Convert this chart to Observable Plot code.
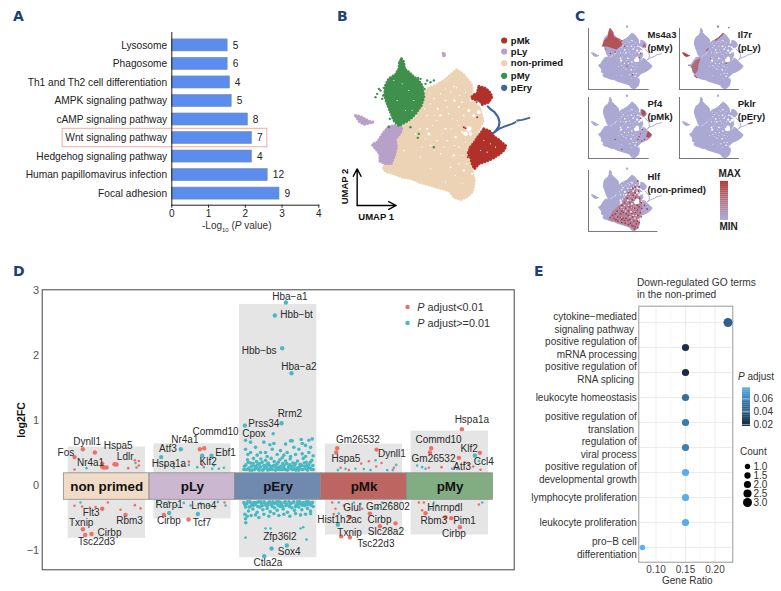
<!DOCTYPE html>
<html><head><meta charset="utf-8">
<script src="https://cdn.jsdelivr.net/npm/d3@7"></script>
<script src="https://cdn.jsdelivr.net/npm/@observablehq/plot@0.6"></script>
<style>
html,body{margin:0;padding:0;background:#fff}
#root{position:relative;width:781px;height:591px;overflow:hidden;font-family:"Liberation Sans",Arial,sans-serif;color:#222}
#root svg{position:absolute;overflow:visible}
.t{position:absolute;white-space:nowrap;line-height:1}
.L{font-weight:700;font-size:14px;color:#1f3f78;font-family:"DejaVu Sans","Liberation Sans",sans-serif}
</style></head><body><div id="root"></div>
<script>
const FONT='"Liberation Sans",Arial,sans-serif';
// ---------- Panel A
const pathways=["Lysosome","Phagosome","Th1 and Th2 cell differentiation","AMPK signaling pathway","cAMP signaling pathway","Wnt signaling pathway","Hedgehog signaling pathway","Human papillomavirus infection","Focal adhesion"];
const pathwayLogP=[1.52,1.52,1.58,1.63,2.07,2.18,2.18,2.61,2.93];
const pathwayCount=[5,6,4,5,8,7,4,12,9];
// ---------- Panel B (UMAP outlines and specks)
const nonPrimedShape=[[378,208],[395,218],[410,235],[422,250],[425,262],[422,295],[432,310],[448,322],[452,340],[458,362],[440,395],[430,440],[425,510],[432,545],[425,575],[408,590],[390,598],[370,590],[358,572],[335,565],[310,558],[290,552],[265,545],[245,535],[215,530],[190,520],[165,513],[157,500],[170,490],[180,440],[215,380],[260,350],[275,295],[280,280],[295,262],[315,255],[340,240]];
const pMyShape=[[213,175],[220,185],[222,205],[235,215],[245,225],[262,238],[275,255],[280,290],[272,315],[255,340],[240,355],[225,365],[205,375],[190,360],[178,330],[170,310],[162,285],[165,255],[175,235],[195,222],[205,205],[207,185]];
const pLyShape=[[175,378],[195,375],[215,380],[210,398],[195,415],[198,440],[192,465],[182,490],[165,490],[148,482],[148,460],[135,445],[125,432],[140,425],[150,410],[160,395]];
const pLyIsland=[[75,345],[90,348],[115,362],[128,365],[100,372],[85,362]];
const pLyTop=[[336,157],[343,158],[344,166],[338,168]];
const pMkLower=[[460,385],[478,392],[490,408],[505,418],[527,437],[518,452],[505,462],[485,475],[465,483],[445,490],[432,505],[425,490],[420,470],[412,460],[420,440],[432,425],[445,405]];
const pMkUpper=[[445,258],[462,262],[475,272],[485,288],[475,305],[455,312],[448,300],[432,297],[422,292],[430,283],[440,278]];
const pEryStem=[[472,318],[480,326],[492,335],[503,350],[507,365],[505,378],[495,392]];
const pEryTail=[[488,398],[505,385],[525,377],[545,370],[555,365]];
const pEryEnd=[[560,360],[575,358],[597,352]];
const pMySpecks=[[270,235],[290,240],[310,240],[300,245],[285,250],[262,232],[140,280],[150,270],[155,295],[135,290],[178,355],[175,380],[240,380],[265,400],[310,440],[262,412],[160,262],[172,250],[275,300],[282,265],[145,265],[158,285]];
const pMkSpecks=[[400,380],[405,383],[412,470],[440,350],[415,465],[425,478],[418,440],[428,292],[438,305]];
const holes=[[370,258,2],[378,262,2],[372,300,3],[385,320,3],[395,305,2],[345,300,2],[322,325,3],[330,345,3],[300,310,2],[310,295,2],[290,345,2],[355,340,2],[400,345,2],[420,300,3],[415,330,4],[430,345,4],[445,335,5],[415,385,7],[405,400,6],[420,400,5],[395,395,3],[375,410,3],[385,440,2],[370,465,3],[385,490,2],[360,500,2],[290,385,3],[295,400,4],[268,385,2],[255,400,2],[300,435,2],[320,420,2],[345,385,3],[350,420,2],[330,460,2],[400,510,3],[425,520,3],[408,490,2],[270,470,1.5],[220,450,1.5],[300,505,1.5],[215,250,1.5],[235,270,2],[200,300,1.5],[250,300,1.5],[225,330,2],[190,240,1.5],[245,330,1.5],[460,420,1.5],[480,430,1.5],[450,450,1.5],[495,440,1.5],[470,455,1.5],
[360,275,1.5],[388,285,1.5],[405,275,1.5],[350,320,1.5],[365,355,1.5],[380,360,1.5],[318,360,1.5],[305,375,1.5],[335,400,1.5],[362,385,1.5],[385,375,1.5],[312,345,1.5],[282,325,1.5],[298,278,1.5],[330,280,1.5],[345,265,1.5],[405,425,1.5],[410,450,1.5],[395,465,1.5],[372,435,1.5],[340,440,1.5],[312,450,1.5],[285,415,1.5],[275,440,1.5],[395,550,1.5],[375,525,1.5],[345,545,1.5]];
const cellTypes=["pMk","pLy","non-primed","pMy","pEry"];
const cellColors=["#b0302a","#b9a0c8","#ecd3b5","#3f8f4d","#3d669f"];
const legendRows=[120,153,188,226,262];
const axisArrows=[[80,615,80,505],[80,615,197,615]];
// ---------- Panel C hot spots, in the same UMAP units
const ms4a3Patch=[[213,175],[235,200],[240,235],[290,250],[300,290],[260,320],[190,300],[150,300],[170,260],[195,235],[200,200]];
const ms4a3Dots=[[467,285],[472,295],[478,305],[462,300],[440,350],[430,380],[300,260],[320,300],[250,340],[215,350],[340,440],[380,500],[180,320]];
const il7rPatch=[[170,400],[205,385],[190,430],[185,470],[165,495],[150,470],[140,440]];
const il7rDots=[[375,212],[368,220],[360,228],[350,236],[340,243],[330,250],[322,256],[255,327],[262,318],[120,432],[170,510],[180,520],[90,355],[100,362],[110,365],[338,160],[420,170],[285,385],[400,420]];
const pf4Upper=[[450,262],[470,270],[480,290],[462,305],[450,290]];
const pf4Lower=[[500,415],[522,435],[505,455],[485,450],[490,430]];
const pf4Dots=[[455,400],[440,430],[430,450],[470,470],[450,480],[420,470],[440,320],[300,540],[250,470]];
const pklrDots=[[575,358],[580,356],[585,355],[590,354],[595,352],[570,360]];
const hlfWash=[[380,280],[430,340],[450,420],[430,560],[400,595],[350,570],[280,545],[200,520],[230,460],[300,400],[340,340]];
const hlfDots=[[420,250],[430,290],[425,320],[400,330],[385,350],[405,365],[435,370],[445,400],[430,430],[415,450],[450,440],[470,420],[490,445],[440,470],[420,490],[400,470],[380,440],[360,430],[350,460],[330,440],[310,470],[290,480],[270,500],[240,510],[210,505],[250,480],[300,520],[330,510],[360,520],[390,530],[410,550],[420,575],[395,585],[375,560],[350,555],[325,545],[300,540],[270,530],[380,500],[350,490],[405,510],[360,400],[340,370],[320,400],[380,380],[415,420],[445,500],[380,300],[350,330],[400,290],[300,420],[280,440],[310,510],[430,540],[375,475],[335,480],[265,460],[230,490],[395,440],[345,525],[365,545],[385,565],[400,570],[415,530],[290,505],[255,520],[320,525],[300,460]];
// ---------- Panel D
const clusters=["non primed","pLy","pEry","pMk","pMy"];
const clusterEdges=[190,447,704,961,1220,1477];
const clusterFill=["#f0dcc6","#cbb7d0","#7089ae","#bd6560","#82ad82"];
const boxX1=[203,460,717,975,1232];
const boxX2=[435,692,949,1206,1464];
const boxTop=[.585,.635,2.78,.63,.83];
const boxBottom=[-.82,-.52,-1.12,-.77,-.77];
const redLarge=[[247,.55],[283,.5],[222,.43],[305,.33],[310,.27],[318,.27],[305,.28],[342,.32],[348,.315],[305,-.365],[375,-.46],[247,-.68],[254,-.77],[273,-.755],[598,.55],[611,.565],[490,-.46],[564,-.53],[1010,.565],[1007,.5],[1128,.545],[1048,-.495],[1108,-.44],[1022,-.79],[1048,-.805],[1138,-.635],[1185,-.59],[1384,.86],[1292,.565],[1288,.5],[1375,.418],[1438,.495],[1275,-.435],[1335,-.495],[1352,-.51],[1378,-.65]];
const redSmall=[[222,.24],[403,.38],[415,.37],[415,.3],[408,.27],[383,.26],[222,-.32],[245,-.33],[268,-.35],[285,-.34],[322,-.27],[360,-.38],[403,-.31],[420,-.36],[520,.33],[545,.3],[565,.36],[605,.31],[672,-.27],[1020,.265],[1045,.23],[1082,.33],[1105,.365],[1143,.34],[1127,.285],[1180,.265],[995,-.27],[1005,-.365],[1030,-.315],[1085,-.365],[1000,-.445],[1392,.35],[1405,.325],[1362,.275],[1440,.235],[1285,.265],[1323,.275],[1418,.285],[1255,-.27],[1270,-.27],[1265,-.39],[1435,-.3]];
const tealLarge=[[541,.55],[482,.43],[605,.45],[633,.45],[506,-.43],[592,-.445],[856,2.81],[823,2.61],[845,2.105],[873,1.72],[843,.95],[733,.915],[791,-1.095],[859,-.93],[813,-.977],[1012,-.61],[1423,.455]];
const tealSmall=[[258,.26],[405,.34],[240,-.27],[495,.3],[565,.31],[520,.265],[590,.275],[610,.275],[640,.3],[655,.25],[670,.265],[635,.25],[470,-.26],[505,-.26],[530,-.315],[550,-.275],[570,-.315],[600,-.28],[625,-.315],[652,-.26],[675,-.315],[490,-.29],[1012,.23],[1035,.25],[1065,.25],[1125,.38],[1090,.245],[1110,.23],[1160,.23],[1187,.31],[1177,.23],[1015,-.27],[1060,-.27],[1080,-.29],[1015,-.44],[1130,-.36],[1145,-.27],[1170,-.27],[1250,.3],[1265,.275],[1275,.25],[1355,.25],[1370,.25],[1435,.37],[1300,-.27],[1310,-.315],[1370,-.315],[1445,-.27],[1290,-.365],[735,-.81],[795,-.67],[810,-.67],[908,-.65],[900,-.67],[918,-.84]];
const pEryUp=[[735,.69],[750,.66],[790,.66],[818,.79],[820,.64],[870,.68],[875,.68],[902,.7],[935,.71],[925,.69],[905,.64],[855,.63],[808,.62],[840,.53],[860,.5],[880,.58],[895,.55],[915,.61],[930,.58],[765,.58],[735,.55],[750,.5],[780,.5],[815,.55],[795,.5],[830,.47],[850,.46],[905,.48],[925,.5],[742,.47],[770,.46],[885,.47],[800,.44],[870,.44],[938,.45],[915,.44],[845,.42],
[730,.24],[736,.31],[741,.39],[745,.26],[750,.34],[755,.23],[759,.41],[763,.29],[768,.36],[772,.25],[777,.33],[781,.4],[786,.23],[790,.3],[795,.38],[799,.26],[803,.34],[808,.24],[812,.41],[816,.29],[821,.36],[825,.23],[829,.32],[834,.27],[838,.39],[842,.24],[847,.33],[851,.3],[855,.37],[860,.23],[864,.28],[869,.4],[873,.25],[877,.34],[882,.3],[886,.23],[891,.37],[895,.27],[899,.32],[904,.24],[908,.41],[912,.29],[917,.35],[921,.23],[925,.31],[930,.26],[934,.38],[938,.24],
[732,.29],[738,.24],[743,.35],[748,.23],[753,.29],[758,.33],[762,.24],[767,.27],[771,.31],[776,.23],[780,.28],[785,.35],[789,.24],[793,.27],[798,.31],[802,.23],[807,.3],[811,.26],[815,.24],[820,.3],[824,.28],[828,.24],[833,.35],[837,.24],[841,.29],[846,.24],[850,.26],[854,.24],[859,.33],[863,.24],[868,.31],[872,.29],[876,.24],[881,.25],[885,.33],[890,.26],[894,.23],[898,.28],[903,.3],[907,.24],[911,.34],[916,.25],[920,.3],[924,.26],[929,.35],[933,.24],[937,.3]];
const pEryDown=[[730,-.27],[735,-.34],[739,-.29],[744,-.4],[748,-.26],[752,-.32],[757,-.37],[761,-.27],[765,-.3],[770,-.42],[774,-.26],[778,-.34],[783,-.29],[787,-.38],[791,-.26],[796,-.31],[800,-.36],[804,-.27],[809,-.41],[813,-.3],[817,-.26],[822,-.35],[826,-.28],[830,-.39],[835,-.26],[839,-.33],[843,-.3],[848,-.37],[852,-.27],[856,-.32],[861,-.42],[865,-.26],[869,-.29],[874,-.35],[878,-.27],[882,-.39],[887,-.31],[891,-.26],[895,-.34],[900,-.29],[904,-.38],[908,-.27],[913,-.32],[917,-.26],[921,-.36],[926,-.3],[930,-.4],[934,-.27],[938,-.33],
[733,-.3],[741,-.26],[746,-.34],[754,-.28],[759,-.31],[768,-.27],[772,-.33],[781,-.26],[785,-.32],[794,-.28],[802,-.31],[807,-.26],[815,-.33],[820,-.28],[828,-.26],[833,-.31],[841,-.27],[846,-.33],[854,-.26],[859,-.3],[867,-.33],[872,-.28],[880,-.26],[885,-.33],[893,-.29],[898,-.26],[906,-.31],[911,-.28],[919,-.3],[924,-.26],[932,-.31],[936,-.27],
[733,-.45],[735,-.52],[740,-.48],[736,-.58],[752,-.47],[765,-.46],[775,-.5],[790,-.45],[805,-.48],[820,-.44],[835,-.47],[850,-.45],[868,-.48],[885,-.44],[900,-.46],[915,-.45],[930,-.44]];
const labelsD=[["Dynll1",260,.67],["Hspa5",353,.61],["Fos",196,.5],["Ldlr",374,.43],["Nr4a1",270,.34],["Flt3",272,-.43],["Txnip",242,-.58],["Rbm3",387,-.55],["Cirbp",327,-.73],["Tsc22d3",288,-.88],
["Commd10",645,.82],["Nr4a1",553,.7],["Atf3",502,.55],["Ebf1",675,.5],["Klf2",623,.35],["Hspa1a",505,.32],["Rarp1",506,-.31],["Lmo4",610,-.315],["Cirbp",505,-.55],["Tcf7",604,-.58],
["Hba\u2212a1",868,2.9],["Hbb\u2212bt",888,2.62],["Hbb\u2212bs",776,2.07],["Hba\u2212a2",895,1.82],["Rrm2",868,1.1],["Prss34",790,.95],["Cpox",760,.79],["Zfp36l2",838,-.79],["Sox4",866,-1.03],["Ctla2a",802,-1.2],
["Gm26532",1072,.7],["Dynll1",1174,.48],["Hspa5",1036,.4],["Glul",1055,-.35],["Gm26802",1162,-.34],["Hist1h2ac",1017,-.54],["Cirbp",1137,-.54],["Txnip",1047,-.73],["Slc28a2",1156,-.72],["Tsc22d3",1126,-.91],
["Hspa1a",1414,1.0],["Commd10",1314,.7],["Klf2",1406,.55],["Gm26532",1299,.4],["Ccl4",1450,.36],["Atf3",1385,.28],["Hnrnpdl",1333,-.35],["Rbm3",1300,-.55],["Pim1",1392,-.555],["Cirbp",1360,-.755]];
const legendDX=[1221,1221];
const legendDY=[2.74,2.495];
// ---------- Panel E
const goTerms=["cytokine\u2212mediated\nsignaling pathway ","positive regulation of\nmRNA processing","positive regulation of\nRNA splicing ","leukocyte homeostasis","positive regulation of\ntranslation ","regulation of\nviral process","positive regulation of\ndevelopmental growth","lymphocyte proliferation","leukocyte proliferation","pro\u2212B cell\ndifferentiation"];
const geneRatio=[.222,.15,.15,.15,.15,.15,.15,.15,.15,.077];
const pAdjust=[.042,.02,.018,.048,.053,.055,.076,.076,.076,.078];
const goCount=[3,2,2,2,2,2,2,2,2,1];
const countLevels=[1,1.5,2,2.5,3];
const colorbarSteps=[.017,.02,.023,.026,.029,.032,.035,.038,.041,.044,.047,.05,.053,.056,.059,.062,.065,.068,.071,.074];
const colorbarTicks=[.02,.04,.06];

const root=document.getElementById("root");
function place(svg,left,top){svg.style.left=left+"px";svg.style.top=top+"px";root.append(svg);return svg}
function text(html,left,top,css="",cls="t"){const d=document.createElement("div");d.className=cls;d.innerHTML=html;d.style.cssText=`left:${left}px;top:${top}px;transform:translateY(-50%);${css}`;root.append(d);return d}
const base={style:{fontFamily:FONT,fontSize:"10px",background:"transparent",overflow:"visible"}};
const poly=(pts,color,o={})=>Plot.line(pts,{x:d=>d[0],y:d=>d[1],curve:"linear-closed",fill:color,stroke:color,strokeWidth:1.5,strokeLinejoin:"round",...o});
const beaded=(pts,color)=>poly(pts,color,{strokeWidth:3,strokeDasharray:"0.1 3",strokeLinecap:"round"});

// Panel A
const tableA=pathways.map((p,i)=>({p,v:pathwayLogP[i],c:pathwayCount[i]}));
place(Plot.plot({...base,style:{...base.style,color:"#222"},width:330,height:240,marginLeft:171.3,marginRight:11.7,marginTop:32,marginBottom:35.3,
 x:{domain:[0,4]},y:{domain:pathways,range:[32.4,205.6],padding:.35,round:false},
 marks:[
  Plot.barX(tableA,{x:"v",y:"p",fill:"#5a8dee",stroke:"#7d8aa6",strokeWidth:.6}),
  Plot.barX([pathways[5]],{y:d=>d,x1:()=>-2.97,x2:()=>2.6,fill:"none",stroke:"#f4aaa0",strokeWidth:1,insetTop:-3.2,insetBottom:-3.2}),
  Plot.text(tableA,{x:"v",y:"p",text:d=>String(d.c),dx:5,textAnchor:"start",fontSize:10.2}),
  Plot.frame({anchor:"left",stroke:"#222"}),Plot.frame({anchor:"bottom",stroke:"#222"}),
  Plot.axisY({tickSize:0,tickPadding:4.6,label:null,fontSize:10.2}),
  Plot.axisX({ticks:[0,1,2,3,4],tickSize:3,tickPadding:2,label:null,tickFormat:d=>d,fontSize:10})
 ]}),0,0);
text('-Log<sub style="font-size:6px">10</sub> (<i>P</i> value)',202,227,"font-size:10px;color:#333");

// Panel B
place(Plot.plot({...base,width:230,height:240,margin:0,r:{type:"identity"},
 x:{domain:[0,690],axis:null},y:{domain:[0,720],range:[0,240],axis:null},color:{type:"identity"},
 marks:[
  beaded(nonPrimedShape,cellColors[2]),
  Plot.dot(holes,{x:d=>d[0],y:d=>d[1],r:d=>d[2]/2.6,fill:"#fff"}),
  beaded(pLyShape,cellColors[1]),beaded(pLyIsland,cellColors[1]),poly(pLyTop,cellColors[1]),
  beaded(pMyShape,cellColors[3]),
  Plot.dot(pMySpecks,{x:d=>d[0],y:d=>d[1],r:1.2,fill:cellColors[3]}),
  beaded(pMkLower,cellColors[0]),beaded(pMkUpper,cellColors[0]),
  Plot.dot(pMkSpecks,{x:d=>d[0],y:d=>d[1],r:1,fill:cellColors[0]}),
  Plot.dot(holes.filter(d=>d[2]<2.1&&(d[0]<260||d[0]>445)),{x:d=>d[0],y:d=>d[1],r:.6,fill:"#fff"}),
  Plot.line(pEryStem,{x:d=>d[0],y:d=>d[1],stroke:cellColors[4],strokeWidth:2.2}),
  Plot.line(pEryTail,{x:d=>d[0],y:d=>d[1],stroke:cellColors[4],strokeWidth:2}),
  Plot.line(pEryEnd,{x:d=>d[0],y:d=>d[1],stroke:cellColors[4],strokeWidth:1.8}),
  Plot.arrow(axisArrows,{x1:d=>d[0],y1:d=>d[1],x2:d=>d[2],y2:d=>d[3],bend:0,stroke:"#000",strokeWidth:1.4,headLength:9,headAngle:55}),
  Plot.text(["UMAP 1"],{x:()=>137,y:()=>650,fontWeight:700,fontSize:9.5,fill:"#111"}),
  Plot.text(["UMAP 2"],{x:()=>43,y:()=>558,rotate:-90,fontWeight:700,fontSize:9.5,fill:"#111"}),
  Plot.dot(cellTypes,{x:()=>521,y:(d,i)=>legendRows[i],r:3.1,fill:(d,i)=>cellColors[i]}),
  Plot.text(cellTypes,{x:()=>541,y:(d,i)=>legendRows[i],text:d=>d,textAnchor:"start",fontWeight:700,fontSize:9.5,fill:"#111"})
 ]}),330,0);

// Panel C
const LAV="#aba9d4",RED="#b5362e";
const outline=[nonPrimedShape,pMyShape,pLyShape,pLyIsland,pLyTop,pMkLower,pMkUpper];
const miniHoleSet=holes.filter(d=>d[0]>270&&d[0]<450&&d[1]<530);
const miniHoles=()=>Plot.dot(miniHoleSet,{x:d=>d[0],y:d=>d[1],r:d=>Math.max(.4,d[2]*.27),fill:"#fff"});
function miniUmap(left,top,w,extra,label,lx){
 const marks=[
  ...outline.map(p=>poly(p,LAV,{strokeWidth:1})),
  Plot.line(pEryStem,{x:d=>d[0],y:d=>d[1],stroke:LAV,strokeWidth:1}),
  Plot.line(pEryTail,{x:d=>d[0],y:d=>d[1],stroke:LAV,strokeWidth:1}),
  Plot.line(pEryEnd,{x:d=>d[0],y:d=>d[1],stroke:LAV,strokeWidth:1}),
  miniHoles(),
  ...extra,
  Plot.frame({anchor:"left",stroke:"#777",strokeWidth:1}),Plot.frame({anchor:"bottom",stroke:"#777",strokeWidth:1}),
  Plot.text([label],{x:()=>lx,y:()=>176,text:d=>d,textAnchor:"start",lineAnchor:"top",lineHeight:1.37,fontWeight:700,fontSize:9.5,fill:"#1a1a1a"})
 ];
 place(Plot.plot({...base,width:w,height:61,margin:0,r:{type:"identity"},
  x:{domain:[50,50+w*7.5],axis:null},y:{domain:[175,603],range:[0,61],axis:null},marks}),left,top);
}
const hot=(pts,r=.7)=>Plot.dot(pts,{x:d=>d[0],y:d=>d[1],r,fill:RED});
miniUmap(587.7,28.3,59.7,[poly(ms4a3Patch,RED,{fillOpacity:.75,strokeOpacity:.6,strokeWidth:.6}),hot(ms4a3Dots)],"Ms4a3\n(pMy)",492);
miniUmap(679.3,28.3,59,[poly(il7rPatch,RED,{fillOpacity:.55,strokeOpacity:.4,strokeWidth:.6}),poly(pLyIsland,RED,{fillOpacity:.8,strokeWidth:.5}),hot(il7rDots)],"Il7r\n(pLy)",487);
miniUmap(587.7,96.7,59.7,[poly(pf4Upper,RED,{fillOpacity:.8,strokeWidth:.5}),poly(pf4Lower,RED,{fillOpacity:.8,strokeWidth:.5}),hot(pf4Dots)],"Pf4\n(pMk)",492);
miniUmap(679.3,96.7,59,[hot(pklrDots)],"Pklr\n(pEry)",487);
miniUmap(587.7,170,68.3,[poly(hlfWash,RED,{fillOpacity:.3,strokeOpacity:0}),hot(hlfDots,.85),miniHoles()],"Hlf\n(non-primed)",492);
const cbC=d3.range(0,1,.05);
place(Plot.plot({...base,width:8,height:39,margin:0,x:{domain:[0,1],axis:null},y:{domain:[0,1],axis:null},
 color:{type:"linear",domain:[0,1],range:["#adabd6",RED]},
 marks:[Plot.rect(cbC,{x1:()=>0,x2:()=>1,y1:d=>d,y2:d=>d+.052,fill:d=>d})]}),720,180.7);
text("MAX",718.5,174,"font-size:10px;font-weight:700;color:#222");
text("MIN",719.5,226.5,"font-size:10px;font-weight:700;color:#222");

// Panel D
const pts=(a,r,c)=>Plot.dot(a,{x:d=>d[0],y:d=>d[1],r,fill:c});
const RD="#ef6f66",TL="#48b9c4";
const clusterRows=clusters.map((name,i)=>({name,i,x1:clusterEdges[i],x2:clusterEdges[i+1],mid:(clusterEdges[i]+clusterEdges[i+1])/2,fill:clusterFill[i],bx1:boxX1[i],bx2:boxX2[i],bt:boxTop[i],bb:boxBottom[i]}));
place(Plot.plot({...base,style:{...base.style,color:"#555",fontSize:"11px"},width:514,height:300,marginLeft:41.7,marginRight:.3,marginTop:19.3,marginBottom:.7,
 x:{domain:[125,1541],axis:null},y:{domain:[-1.305,3.005]},color:{type:"identity"},
 marks:[
  Plot.rect(clusterRows,{x1:"bx1",x2:"bx2",y1:"bb",y2:"bt",fill:"#e5e5e5"}),
  pts(pEryUp,1.8,TL),pts(pEryDown,1.8,TL),
  pts(tealSmall,1.3,TL),pts(redSmall,1.3,RD),pts(tealLarge,2.2,TL),pts(redLarge,2.2,RD),
  Plot.rect(clusterRows,{x1:"x1",x2:"x2",y1:()=>-.227,y2:()=>.18,fill:"fill",stroke:"#8a8a8a",strokeWidth:.8}),
  Plot.text(clusterRows,{x:"mid",y:()=>-.03,text:"name",fontWeight:700,fontSize:13.4,fill:"#111"}),
  Plot.text(labelsD,{x:d=>d[1],y:d=>d[2],text:d=>d[0],fontSize:10,fill:"#2a2a2a"}),
  Plot.dot(legendDX,{x:d=>d,y:(d,i)=>legendDY[i],r:2.2,fill:(d,i)=>[RD,TL][i]}),
  Plot.frame({stroke:"#444",strokeWidth:1}),
  Plot.axisY({ticks:[-1,0,1,2,3],tickSize:0,tickPadding:3,label:null,fontSize:11,color:"#555",tickFormat:d3.format("d")})
 ]}),0,270);
text('log2FC',21,420,"font-size:10.5px;font-weight:700;transform:translate(-50%,-50%) rotate(-90deg);color:#111");
text('<i>P</i> adjust&lt;0.01',417.3,306.5,"font-size:10.8px;color:#333");
text('<i>P</i> adjust&gt;=0.01',417.3,322.5,"font-size:10.8px;color:#333");

// Panel E
const tableE=goTerms.map((t,i)=>({t,g:geneRatio[i],p:pAdjust[i],c:goCount[i]}));
const pColor={type:"linear",domain:[.017,.078],range:["#132B43","#56B1F7"]};
const rScale={type:"linear",domain:[1,3],range:[2.7,4.5]};
place(Plot.plot({...base,style:{...base.style,color:"#444"},width:203,height:330,marginLeft:108.3,marginRight:.7,marginTop:45.7,marginBottom:28.3,
 x:{domain:[.0708,.2302]},y:{domain:goTerms,type:"point",padding:0,range:[60.7,287.3],axis:null},color:pColor,r:rScale,
 marks:[
  Plot.ruleY(goTerms,{y:d=>d,stroke:"#ececec",strokeWidth:1}),
  Plot.ruleX([.1,.15,.2],{stroke:"#ececec",strokeWidth:1}),
  Plot.ruleX([.125,.175,.225],{stroke:"#f5f5f5",strokeWidth:.6}),
  Plot.frame({stroke:"#999",strokeWidth:1}),
  Plot.dot(tableE,{x:"g",y:"t",r:"c",fill:"p"}),
  Plot.text(goTerms,{x:()=>.0708,y:d=>d,text:d=>d,dx:-2,textAnchor:"end",lineHeight:1.23,fontSize:10,fill:"#333"}),
  Plot.axisX({ticks:[.1,.15,.2],tickSize:0,tickPadding:4,label:null,tickFormat:d3.format(".2f"),fontSize:10,color:"#444"})
 ]}),530,260);
text("Down-regulated GO terms",637,283,"font-size:10.2px;color:#333");
text("in the non-primed",637,295,"font-size:10.2px;color:#333");
text("Gene Ratio",662,580.7,"font-size:10px;color:#333");
text("<i>P</i> adjust",738,377,"font-size:10px;color:#333");
text("Count",740,452,"font-size:10px;color:#333");
place(Plot.plot({...base,style:{...base.style,color:"#333"},width:30,height:39,margin:0,marginRight:22,x:{domain:[0,1],axis:null},y:{domain:[.0169,.0778],axis:null},color:pColor,
 marks:[
  Plot.rect(colorbarSteps,{x1:()=>0,x2:()=>1,y1:d=>d,y2:d=>d+.0032,fill:d=>d}),
  Plot.tickY(colorbarTicks,{y:d=>d,x1:()=>0,x2:()=>.2,stroke:"#fff",strokeWidth:.5}),
  Plot.text(colorbarTicks,{x:()=>1,y:d=>d,text:d=>d.toFixed(2),dx:3,textAnchor:"start",fontSize:10,fill:"#333"})
 ]}),742,387);
place(Plot.plot({...base,width:30,height:45,margin:0,x:{domain:[0,1],axis:null},y:{domain:countLevels.map(String),type:"point",padding:0,range:[5,42],axis:null},r:rScale,
 marks:[
  Plot.dot(countLevels,{x:()=>0,y:d=>String(d),r:d=>d,fill:"#000"}),
  Plot.text(countLevels,{x:()=>0,y:d=>String(d),text:d=>d.toFixed(1),dx:6,textAnchor:"start",fontSize:10,fill:"#333"})
 ]}),747,459.5);

// Panel letters
[["A",13,16],["B",337,16],["C",575,16],["D",13,271],["E",534,271]].forEach(([l,x,y])=>text(l,x,y,"","t L"));
</script></body></html>
